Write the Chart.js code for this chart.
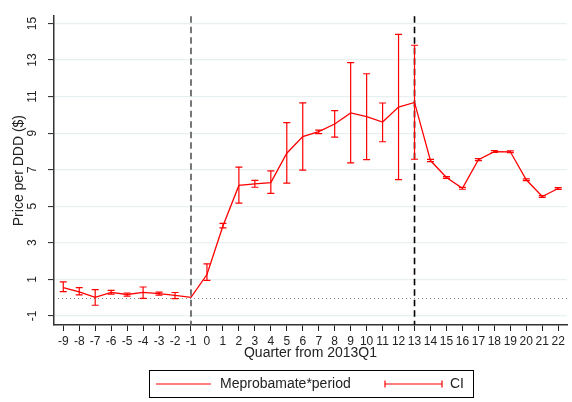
<!DOCTYPE html>
<html>
<head>
<meta charset="utf-8">
<script src="https://cdn.jsdelivr.net/npm/chart.js@4.4.1/dist/chart.umd.min.js"></script>
<style>
  html, body { margin: 0; padding: 0; background: #fff; }
  #wrap { width: 572px; height: 402px; }
</style>
</head>
<body>
<div id="wrap"><canvas id="priceChart" width="572" height="402"></canvas></div>
<script>
const quarters = [-9, -8, -7, -6, -5, -4, -3, -2, -1, 0, 1, 2, 3, 4, 5, 6, 7, 8, 9, 10, 11, 12, 13, 14, 15, 16, 17, 18, 19, 20, 21, 22];
const price = [0.54, 0.31, 0.01, 0.28, 0.17, 0.28, 0.22, 0.12, 0.01, 1.26, 3.92, 6.14, 6.22, 6.29, 7.90, 8.81, 9.08, 9.50, 10.11, 9.90, 9.61, 10.43, 10.68, 7.50, 6.57, 5.98, 7.55, 7.99, 7.98, 6.45, 5.53, 5.97];
const ciHigh = [0.86, 0.54, 0.44, 0.40, 0.25, 0.58, 0.30, 0.28, null, 1.85, 4.06, 7.14, 6.41, 6.94, 9.58, 10.66, 9.17, 10.23, 12.86, 12.25, 10.65, 14.41, 13.81, 7.56, 6.62, 6.03, 7.60, 8.04, 8.03, 6.50, 5.58, 6.02];
const ciLow = [0.33, 0.15, -0.42, 0.19, 0.08, -0.04, 0.14, -0.06, null, 0.94, 3.82, 5.17, 6.04, 5.70, 6.27, 6.98, 8.97, 8.78, 7.37, 7.55, 8.53, 6.46, 7.57, 7.44, 6.52, 5.93, 7.50, 7.94, 7.93, 6.40, 5.48, 5.92];
const yTicks = [-1, 1, 3, 5, 7, 9, 11, 13, 15];
const eventLines = [
  { x: -1, color: "#555555" },
  { x: 13, color: "#000000" }
];
const seriesLabel = "Meprobamate*period";
const ciLabel = "CI";

const RED = "#ff0000";
const FONT = "'Liberation Sans', Arial, Helvetica, sans-serif";

// error bars, reference lines and the boxed legend
const extras = {
  id: "extras",
  beforeDatasetsDraw(chart) {
    const { ctx, chartArea, scales: { x, y } } = chart;
    ctx.save();
    // dotted zero line
    ctx.strokeStyle = "#888";
    ctx.lineWidth = 1;
    ctx.setLineDash([1, 3]);
    ctx.beginPath();
    ctx.moveTo(chartArea.left, Math.round(y.getPixelForValue(0)) + 0.5);
    ctx.lineTo(chartArea.right, Math.round(y.getPixelForValue(0)) + 0.5);
    ctx.stroke();
    // dashed event lines
    ctx.lineWidth = 1.6;
    ctx.setLineDash([6.5, 4]);
    eventLines.forEach(l => {
      const px = x.getPixelForValue(l.x);
      ctx.strokeStyle = l.color;
      ctx.beginPath();
      ctx.moveTo(px, chartArea.top);
      ctx.lineTo(px, chartArea.bottom);
      ctx.stroke();
    });
    ctx.restore();
  },
  afterDatasetsDraw(chart) {
    const { ctx, scales: { x, y } } = chart;
    ctx.save();
    ctx.strokeStyle = RED;
    ctx.lineWidth = 1.2;
    quarters.forEach((q, i) => {
      if (ciHigh[i] == null) return;
      const px = x.getPixelForValue(q);
      const top = y.getPixelForValue(ciHigh[i]);
      const bot = y.getPixelForValue(ciLow[i]);
      ctx.beginPath();
      ctx.moveTo(px, top); ctx.lineTo(px, bot);
      ctx.moveTo(px - 3.5, top); ctx.lineTo(px + 3.5, top);
      ctx.moveTo(px - 3.5, bot); ctx.lineTo(px + 3.5, bot);
      ctx.stroke();
    });

    // legend
    ctx.strokeStyle = "#000";
    ctx.lineWidth = 1;
    ctx.strokeRect(149.5, 370.5, 324, 27);
    ctx.strokeStyle = RED;
    ctx.lineWidth = 1.2;
    ctx.beginPath();
    ctx.moveTo(156, 384); ctx.lineTo(211, 384);
    ctx.moveTo(385, 384); ctx.lineTo(442, 384);
    ctx.moveTo(385, 380.5); ctx.lineTo(385, 387.5);
    ctx.moveTo(442, 380.5); ctx.lineTo(442, 387.5);
    ctx.stroke();
    ctx.fillStyle = "#222";
    ctx.font = "14px " + FONT;
    ctx.textBaseline = "middle";
    ctx.textAlign = "left";
    ctx.fillText(seriesLabel, 220, 384.5);
    ctx.fillText(ciLabel, 450, 384.5);
    ctx.restore();
  }
};

new Chart(document.getElementById("priceChart"), {
  type: "line",
  data: {
    datasets: [{
      label: seriesLabel,
      data: quarters.map((q, i) => ({ x: q, y: price[i] })),
      borderColor: RED,
      borderWidth: 1.3,
      pointRadius: 0,
      tension: 0
    }]
  },
  options: {
    responsive: false,
    animation: false,
    layout: { padding: { top: 8, right: 5, bottom: 40, left: 0 } },
    plugins: { legend: { display: false }, tooltip: { enabled: false } },
    scales: {
      x: {
        type: "linear",
        min: -9.58,
        max: 22.55,
        afterBuildTicks: axis => { axis.ticks = quarters.map(v => ({ value: v })); },
        afterFit: axis => { axis.height = 37; },
        ticks: {
          color: "#222",
          font: { family: FONT, size: 12 },
          padding: 3,
          maxRotation: 0,
          autoSkip: false
        },
        grid: { drawOnChartArea: false, drawTicks: true, tickLength: 6, tickColor: "#222", tickWidth: 1 },
        border: { display: true, color: "#333", width: 1.5 },
        title: {
          display: true,
          text: "Quarter from 2013Q1",
          color: "#222",
          font: { family: FONT, size: 14 },
          padding: { top: 0, bottom: 0 }
        }
      },
      y: {
        min: -1.5,
        max: 15.4,
        afterBuildTicks: axis => { axis.ticks = yTicks.map(v => ({ value: v })); },
        afterFit: axis => { axis.width = 54; },
        ticks: {
          color: "#222",
          font: { family: FONT, size: 12 },
          padding: 9,
          minRotation: 90,
          maxRotation: 90,
          crossAlign: "center"
        },
        grid: { color: "#e8f0f1", lineWidth: 1.2, tickLength: 6, tickColor: "#222", tickWidth: 1 },
        border: { display: true, color: "#333", width: 1.5 },
        title: {
          display: true,
          text: "Price per DDD ($)",
          color: "#222",
          font: { family: FONT, size: 14 },
          padding: { top: 11, bottom: 0 }
        }
      }
    }
  },
  plugins: [extras]
});
</script>
</body>
</html>
